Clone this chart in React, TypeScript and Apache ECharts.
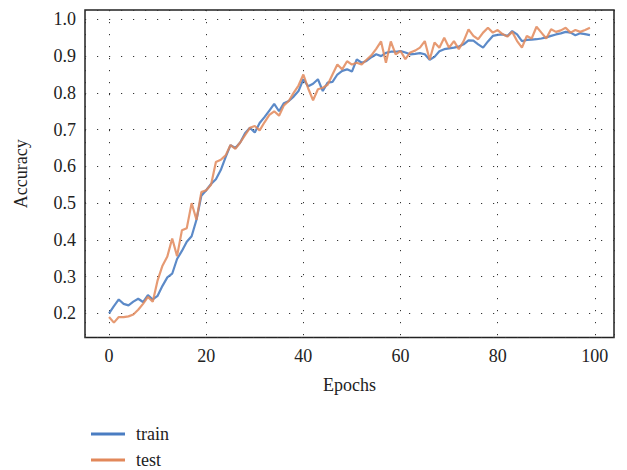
import React, { useEffect, useRef } from "react";
import * as echarts from "echarts";

const epochs: number[] = Array.from({ length: 100 }, (_, i) => i);

const trainAcc: number[] = [
  0.2, 0.22, 0.238, 0.226, 0.222, 0.232, 0.24, 0.231, 0.25, 0.238,
  0.248, 0.275, 0.298, 0.308, 0.348, 0.37, 0.395, 0.41, 0.455, 0.52,
  0.535, 0.552, 0.565, 0.59, 0.625, 0.658, 0.65, 0.665, 0.69, 0.705,
  0.692, 0.718, 0.734, 0.752, 0.77, 0.75, 0.772, 0.778, 0.79, 0.805,
  0.837, 0.818, 0.825, 0.837, 0.805, 0.828, 0.83, 0.85, 0.86, 0.864,
  0.858, 0.891, 0.882, 0.887, 0.897, 0.905, 0.9, 0.909, 0.912, 0.912,
  0.914, 0.91, 0.905, 0.906, 0.908, 0.905, 0.89, 0.898, 0.913, 0.919,
  0.921, 0.923, 0.926, 0.932, 0.943, 0.942, 0.932, 0.923, 0.94, 0.955,
  0.958, 0.959, 0.955, 0.968, 0.959, 0.941, 0.944, 0.945, 0.946, 0.948,
  0.951, 0.955, 0.959, 0.962, 0.966, 0.964, 0.957, 0.962, 0.96, 0.957,
];

const testAcc: number[] = [
  0.19, 0.175, 0.19, 0.19, 0.192, 0.197, 0.21, 0.226, 0.245, 0.232,
  0.29, 0.33, 0.355, 0.404, 0.356, 0.426, 0.432, 0.5, 0.455, 0.53,
  0.535, 0.55, 0.612, 0.618, 0.63, 0.658, 0.648, 0.665, 0.685, 0.705,
  0.71, 0.698, 0.72, 0.74, 0.75, 0.738, 0.766, 0.778, 0.8, 0.82,
  0.85, 0.812, 0.78, 0.81, 0.814, 0.822, 0.85, 0.877, 0.864, 0.886,
  0.877, 0.882, 0.877, 0.89, 0.902, 0.92, 0.94, 0.882, 0.94, 0.905,
  0.914, 0.892, 0.91, 0.915, 0.923, 0.941, 0.89, 0.937, 0.923, 0.95,
  0.923, 0.941, 0.919, 0.941, 0.973, 0.955, 0.946, 0.964, 0.977, 0.964,
  0.971, 0.96, 0.953, 0.966, 0.941, 0.923, 0.955, 0.948, 0.98, 0.964,
  0.948, 0.973, 0.966, 0.97, 0.977, 0.964, 0.971, 0.966, 0.971, 0.977,
];

const seriesNames: string[] = ["train", "test"];
const FONT = "'Liberation Serif', 'DejaVu Serif', serif";

export default function App() {
  const ref = useRef<HTMLDivElement>(null);

  useEffect(() => {
    document.body.style.margin = "0";
    if (!ref.current) return;
    const chart = echarts.init(ref.current, undefined, { renderer: "svg" });
    const dotted = { color: "#333", width: 1, type: [1.2, 10.8] as number[] };
    const legendBase = {
      left: 86,
      itemWidth: 34,
      itemHeight: 3,
      icon: "rect",
      textStyle: {
        fontFamily: FONT,
        fontSize: 18,
        color: "#222",
        padding: [0, 0, 0, 6],
      },
    };
    chart.setOption({
      animation: false,
      backgroundColor: "#fff",
      grid: {
        left: 85,
        right: 13,
        top: 10,
        bottom: 132.5,
        show: true,
        borderColor: "#222",
        borderWidth: 1.5,
        backgroundColor: "transparent",
      },
      legend: [
        { ...legendBase, top: 420, data: [seriesNames[0]] },
        { ...legendBase, top: 446, data: [seriesNames[1]] },
      ],
      xAxis: {
        type: "value",
        min: -4.95,
        max: 103.95,
        splitNumber: 5,
        name: "Epochs",
        nameLocation: "middle",
        nameGap: 38,
        nameTextStyle: { fontFamily: FONT, fontSize: 18, color: "#222" },
        axisLine: { show: false },
        axisTick: { show: false },
        axisLabel: {
          margin: 9,
          fontFamily: FONT,
          fontSize: 18,
          color: "#222",
          formatter: (v: number) =>
            Math.abs(v / 20 - Math.round(v / 20)) < 1e-6 ? String(Math.round(v)) : "",
        },
        splitLine: { show: true, lineStyle: dotted },
      },
      yAxis: {
        type: "value",
        min: 0.1345,
        max: 1.0255,
        splitNumber: 9,
        name: "Accuracy",
        nameLocation: "middle",
        nameGap: 55,
        nameTextStyle: { fontFamily: FONT, fontSize: 18, color: "#222" },
        axisLine: { show: false },
        axisTick: { show: false },
        axisLabel: {
          margin: 9,
          fontFamily: FONT,
          fontSize: 18,
          color: "#222",
          formatter: (v: number) =>
            Math.abs(v * 10 - Math.round(v * 10)) < 1e-6 ? v.toFixed(1) : "",
        },
        splitLine: { show: true, lineStyle: dotted },
      },
      series: [
        {
          name: seriesNames[0],
          type: "line",
          data: epochs.map((e, i) => [e, trainAcc[i]]),
          showSymbol: false,
          symbol: "none",
          lineStyle: { color: "#4a7dc2", width: 2.2, opacity: 0.9 },
          itemStyle: { color: "#4a7dc2" },
        },
        {
          name: seriesNames[1],
          type: "line",
          data: epochs.map((e, i) => [e, testAcc[i]]),
          showSymbol: false,
          symbol: "none",
          lineStyle: { color: "#e2885a", width: 2.2, opacity: 0.85 },
          itemStyle: { color: "#e2885a" },
        },
      ],
    });
    return () => chart.dispose();
  }, []);

  return (
    <div
      ref={ref}
      style={{ position: "fixed", left: 0, top: 0, width: 627, height: 470 }}
    />
  );
}
